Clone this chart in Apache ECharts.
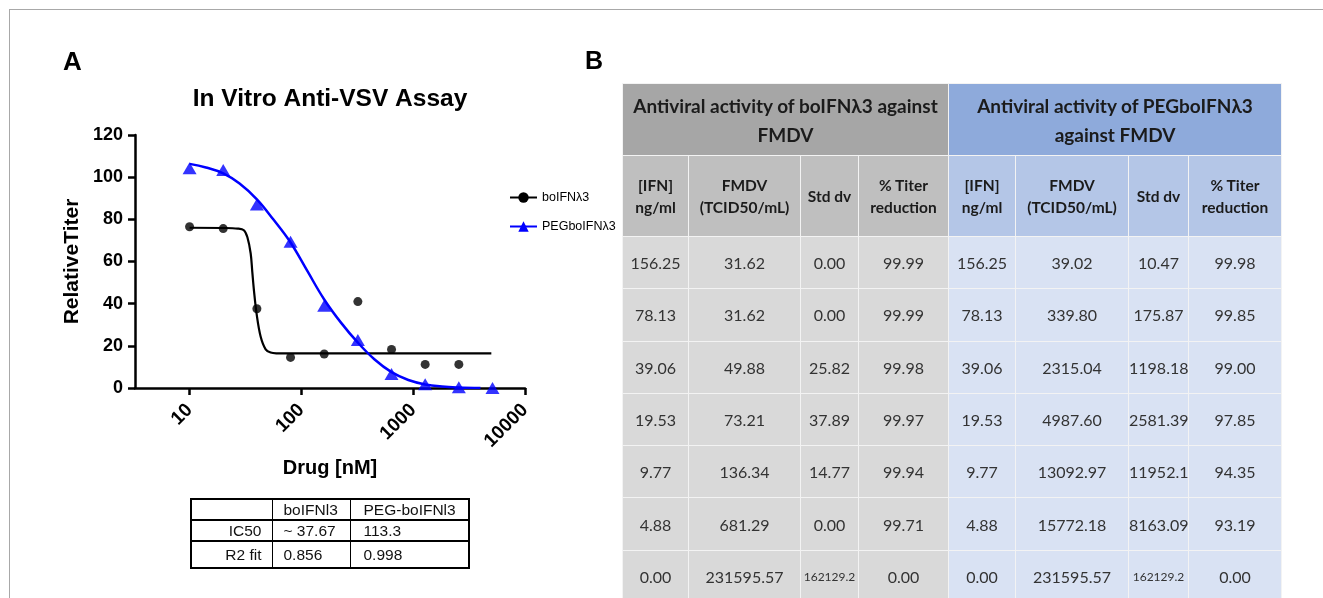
<!DOCTYPE html>
<html><head><meta charset="utf-8">
<script src="https://cdn.jsdelivr.net/npm/echarts@6/dist/echarts.min.js"></script>
<style>
html,body{margin:0;padding:0;width:1323px;height:598px;overflow:hidden;background:#fff;}
#frame{position:absolute;left:9px;top:9px;width:1330px;height:610px;border-left:1.5px solid #a8a8a8;border-top:1.5px solid #a8a8a8;}
#chart{position:absolute;left:0;top:0;width:1323px;height:598px;}
#tb{position:absolute;left:622px;top:83px;border-collapse:collapse;table-layout:fixed;font-family:Lato,'Open Sans',sans-serif;width:659px;}
#tb td{padding:0;text-align:center;vertical-align:middle;border:1.2px solid #f3f3f3;}
#tb tr.h1 td{font-weight:bold;font-size:19px;line-height:29px;color:#1b1b1b;height:71px;}
#tb tr.h2 td{font-weight:bold;font-size:15.5px;line-height:22px;color:#1b1b1b;height:80px;}
#tb tr.d td{font-size:16px;color:#333;height:51.3px;}
#tb tr.d td.sm{font-size:12px;}
#tb .g1{background:#a6a6a6;} #tb .b1{background:#8eaadb;}
#tb .g2{background:#bfbfbf;} #tb .b2{background:#b4c6e7;}
#tb .g3{background:#d9d9d9;} #tb .b3{background:#d9e2f3;}
#ic{position:absolute;left:190px;top:498px;border-collapse:collapse;table-layout:fixed;font-family:'Liberation Sans',Arial,sans-serif;font-size:15.5px;color:#111;border:2.5px solid #000;}
#ic td{padding:0;border-left:1px solid #000;border-right:1px solid #000;border-top:2.5px solid #000;border-bottom:2.5px solid #000;white-space:nowrap;}
</style></head><body>
<div id="frame"></div>
<div id="chart"></div>
<table id="tb"></table>
<table id="ic"></table>
<script>
// ---------- Panel A data ----------
const seriesNames = ['boIFNλ3', 'PEGboIFNλ3'];
const xTicks = [10, 100, 1000, 10000];
// measured points [drug nM, relative titer]
const boPoints = [[10,76.5],[20,75.6],[40,37.6],[80,14.5],[160,16.1],[320,41],[640,18.3],[1280,11.2],[2560,11.2]];
const pegPoints = [[10,104.2],[20,103.4],[40,87],[80,69.4],[160,39],[320,22.8],[640,6.6],[1280,1.8],[2560,0.3],[5120,0]];
// fitted curves
const boFit = [[10,76.0],[20,75.9],[27,75.6],[30.6,74.8],[32.9,71.5],[35.2,63.8],[36.4,55],[37.7,46],[39.8,35],[43.2,24.4],[47.9,18.3],[53.1,16.8],[60,16.45],[80,16.4],[200,16.4],[1000,16.4],[5000,16.4]];
const pegFit = [[10,106.3],[14,104.6],[20,101.8],[28,97],[40,89.5],[56,80],[80,69],[113,55.5],[160,42],[226,31],[320,21.5],[452,13.5],[640,7.5],[905,3.8],[1280,1.7],[1810,0.7],[2560,0.25],[4000,0]];
// IC50 table
const icHeader = ['', 'boIFNl3', 'PEG-boIFNl3'];
const icRows = [['IC50', '~ 37.67', '113.3'], ['R2 fit', '0.856', '0.998']];
// ---------- Panel B data ----------
const groupTitles = ['Antiviral activity of boIFNλ3 against<br>FMDV', 'Antiviral activity of PEGboIFNλ3<br>against FMDV'];
const colHeaders = ['[IFN]<br>ng/ml', 'FMDV<br>(TCID50/mL)', 'Std dv', '% Titer<br>reduction'];
const ifnConc = ['156.25','78.13','39.06','19.53','9.77','4.88','0.00'];
const fmdvA = ['31.62','31.62','49.88','73.21','136.34','681.29','231595.57'];
const stdA = ['0.00','0.00','25.82','37.89','14.77','0.00','162129.2'];
const titerA = ['99.99','99.99','99.98','99.97','99.94','99.71','0.00'];
const fmdvB = ['39.02','339.80','2315.04','4987.60','13092.97','15772.18','231595.57'];
const stdB = ['10.47','175.87','1198.18','2581.39','11952.1','8163.09','162129.2'];
const titerB = ['99.98','99.85','99.00','97.85','94.35','93.19','0.00'];

// build table B
const colW = [66, 112, 58, 90, 67, 113, 60, 93];
let h = '<colgroup>' + colW.map(w => '<col style="width:' + w + 'px">').join('') + '</colgroup>';
h += '<tr class="h1"><td colspan="4" class="g1">' + groupTitles[0] + '</td><td colspan="4" class="b1">' + groupTitles[1] + '</td></tr>';
h += '<tr class="h2">' + colHeaders.map(c => '<td class="g2">' + c + '</td>').join('') + colHeaders.map(c => '<td class="b2">' + c + '</td>').join('') + '</tr>';
for (let i = 0; i < ifnConc.length; i++) {
  const smA = stdA[i] === '162129.2' ? ' sm' : '';
  const smB = stdB[i] === '162129.2' ? ' sm' : '';
  h += '<tr class="d">' +
    '<td class="g3">' + ifnConc[i] + '</td><td class="g3">' + fmdvA[i] + '</td><td class="g3' + smA + '">' + stdA[i] + '</td><td class="g3">' + titerA[i] + '</td>' +
    '<td class="b3">' + ifnConc[i] + '</td><td class="b3">' + fmdvB[i] + '</td><td class="b3' + smB + '">' + stdB[i] + '</td><td class="b3">' + titerB[i] + '</td></tr>';
}
document.getElementById('tb').innerHTML = h;

// build IC50 table
const icW = [81, 78, 119];
const icH = [21, 21, 27];
const icAlign = [['right','10px'], ['left','11px'], ['left','13px']];
let t = '<colgroup>' + icW.map(w => '<col style="width:' + w + 'px">').join('') + '</colgroup>';
[icHeader].concat(icRows).forEach((row, r) => {
  t += '<tr style="height:' + icH[r] + 'px">' + row.map((c, k) => {
    const al = icAlign[k];
    const pad = al[0] === 'right' ? 'padding-right:' + al[1] : 'padding-left:' + al[1];
    return '<td style="text-align:' + al[0] + ';' + pad + '">' + c + '</td>';
  }).join('') + '</tr>';
});
document.getElementById('ic').innerHTML = t;

// ---------- chart ----------
const FF = "'Liberation Sans', Arial, sans-serif";
const chart = echarts.init(document.getElementById('chart'), null, {renderer: 'canvas'});
chart.setOption({
  animation: false,
  title: [
    {text: 'A', left: 63, top: 50, padding: 0, textStyle: {fontFamily: FF, fontSize: 26, fontWeight: 'bold', color: '#000'}},
    {text: 'B', left: 585, top: 50, padding: 0, textStyle: {fontFamily: FF, fontSize: 25, fontWeight: 'bold', color: '#000'}},
    {text: 'In Vitro Anti-VSV Assay', left: 330, textAlign: 'center', top: 87, padding: 0, textStyle: {fontFamily: FF, fontSize: 24.5, fontWeight: 'bold', color: '#000'}}
  ],
  legend: {
    data: seriesNames, orient: 'vertical', left: 504, top: 186,
    itemWidth: 27, itemHeight: 13, itemGap: 16,
    textStyle: {fontFamily: FF, fontSize: 12.5, color: '#000'}
  },
  grid: {left: 135, right: 798, top: 135, bottom: 210},
  xAxis: {
    type: 'log', logBase: 10, min: 3.25, max: 10000,
    name: 'Drug [nM]', nameLocation: 'middle', nameGap: 70,
    nameTextStyle: {fontFamily: FF, fontSize: 20, fontWeight: 'bold', color: '#000'},
    axisLine: {lineStyle: {color: '#000', width: 2.5}},
    axisTick: {customValues: xTicks, length: 7, lineStyle: {color: '#000', width: 2.5}},
    axisLabel: {customValues: xTicks, rotate: 45, margin: 19, fontFamily: FF, fontSize: 19, fontWeight: 'bold', color: '#000',
      formatter: v => String(Math.round(v))},
    splitLine: {show: false}, minorTick: {show: false}
  },
  yAxis: {
    type: 'value', min: 0, max: 120, interval: 20,
    name: 'RelativeTiter', nameLocation: 'middle', nameGap: 52, nameRotate: 90,
    nameTextStyle: {fontFamily: FF, fontSize: 21, fontWeight: 'bold', color: '#000'},
    axisLine: {show: true, lineStyle: {color: '#000', width: 2.5}},
    axisTick: {show: true, length: 7, lineStyle: {color: '#000', width: 2.5}},
    axisLabel: {margin: 12, fontFamily: FF, fontSize: 18, fontWeight: 'bold', color: '#000'},
    splitLine: {show: false}
  },
  series: [
    {name: seriesNames[0], type: 'line', data: boFit, smooth: 0.35, showSymbol: false, symbol: 'circle', symbolSize: 9,
      lineStyle: {color: '#000', width: 2.2}, itemStyle: {color: '#000'}, z: 3},
    {name: seriesNames[0], type: 'scatter', data: boPoints, symbol: 'circle', symbolSize: 9, itemStyle: {color: '#000'}, z: 4},
    {name: seriesNames[1], type: 'line', data: pegFit, smooth: 0.4, showSymbol: false, symbol: 'triangle', symbolSize: 13,
      lineStyle: {color: '#0000ff', width: 2.5}, itemStyle: {color: '#0000ff'}, z: 3},
    {name: seriesNames[1], type: 'scatter', data: pegPoints, symbol: 'triangle', symbolSize: [14, 12], itemStyle: {color: '#0000ff'}, z: 4}
  ]
});
</script>
</body></html>
